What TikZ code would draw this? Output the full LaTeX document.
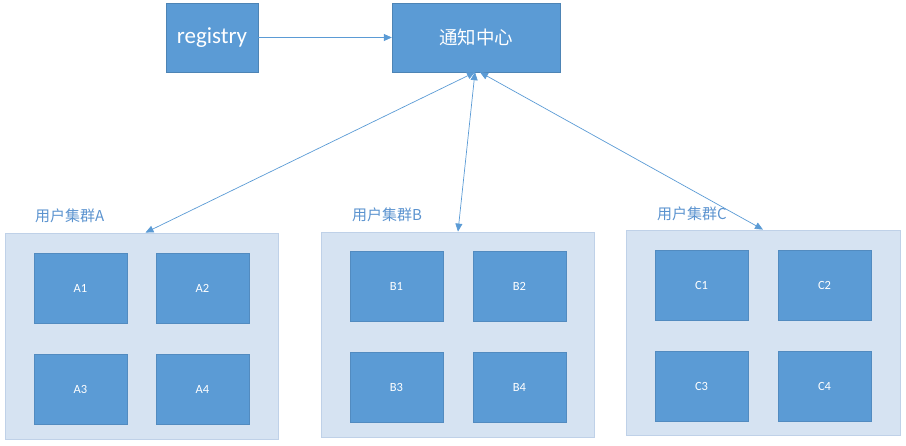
\documentclass[tikz,border=0pt]{standalone}
\usepackage{fontspec}
\setmainfont{Carlito}
\newfontfamily\cjk{Noto Sans CJK SC}
\usetikzlibrary{arrows.meta}
\definecolor{boxblue}{HTML}{5B9BD5}
\definecolor{clusterfill}{HTML}{D6E3F2}
\definecolor{clusterline}{HTML}{BFD1E8}
\definecolor{labelblue}{HTML}{5B93CF}
\tikzset{
  bigbox/.style={draw=boxblue!85!black, line width=0.4pt, fill=boxblue, text=white, inner sep=0pt},
  smallbox/.style={draw=boxblue!90!black, line width=0.3pt, fill=boxblue, text=white, inner sep=0pt, minimum width=93pt, minimum height=70pt, font=\fontsize{12.5}{14}\selectfont},
  cluster/.style={draw=clusterline, line width=0.8pt, fill=clusterfill, inner sep=0pt},
  clabel/.style={text=labelblue, anchor=west, inner sep=0pt, font=\cjk\fontsize{15}{17}\selectfont},
  conn/.style={draw=boxblue, line width=0.7pt, -{Triangle[length=8pt,width=7pt]}},
  dconn/.style={draw=boxblue, line width=0.7pt, {Triangle[length=8pt,width=7pt]}-{Triangle[length=8pt,width=7pt]}}
}
\begin{document}
\begin{tikzpicture}[x=1pt,y=-1pt]
\useasboundingbox (0,0) rectangle (906,446);
% top boxes
\node[bigbox, minimum width=92pt, minimum height=69pt, font=\fontsize{23}{26}\selectfont] (reg) at (212,37.5) {registry};
\node[bigbox, minimum width=168pt, minimum height=69pt, font=\cjk\fontsize{18.5}{22}\selectfont] (hub) at (476,37.5) {通知中心};
% clusters
\node[cluster, minimum width=273pt, minimum height=206pt] (ca) at (141.5,336) {};
\node[cluster, minimum width=273pt, minimum height=205pt] (cb) at (457.5,334.5) {};
\node[cluster, minimum width=274pt, minimum height=205pt] (cc) at (763,332.5) {};
\node[clabel] (la) at (35,216) {用户集群A};
\node[clabel] (lb) at (352,215) {用户集群B};
\node[clabel] (lc) at (657,214) {用户集群C};
% members
\node[smallbox] (a1) at (80.5,288) {A1};
\node[smallbox] (a2) at (202.5,288) {A2};
\node[smallbox] (a3) at (80.5,389) {A3};
\node[smallbox] (a4) at (202.5,389) {A4};
\node[smallbox] (b1) at (396.5,286) {B1};
\node[smallbox] (b2) at (519.5,286) {B2};
\node[smallbox] (b3) at (396.5,387) {B3};
\node[smallbox] (b4) at (519.5,387) {B4};
\node[smallbox] (c1) at (701.5,285) {C1};
\node[smallbox] (c2) at (824.5,285) {C2};
\node[smallbox] (c3) at (701.5,386) {C3};
\node[smallbox] (c4) at (824.5,386) {C4};
% connectors
\draw[conn] (reg.east) -- (hub.west);
\coordinate (hA) at ([xshift=-1pt]hub.south);
\coordinate (hB) at ([xshift=-1pt]hub.south);
\coordinate (hC) at ([xshift=4pt]hub.south);
\draw[dconn] (hA) -- ([xshift=4pt]ca.north);
\draw[dconn] (hB) -- ([xshift=0.5pt]cb.north);
\draw[dconn] (hC) -- (cc.north);
\end{tikzpicture}
\end{document}
